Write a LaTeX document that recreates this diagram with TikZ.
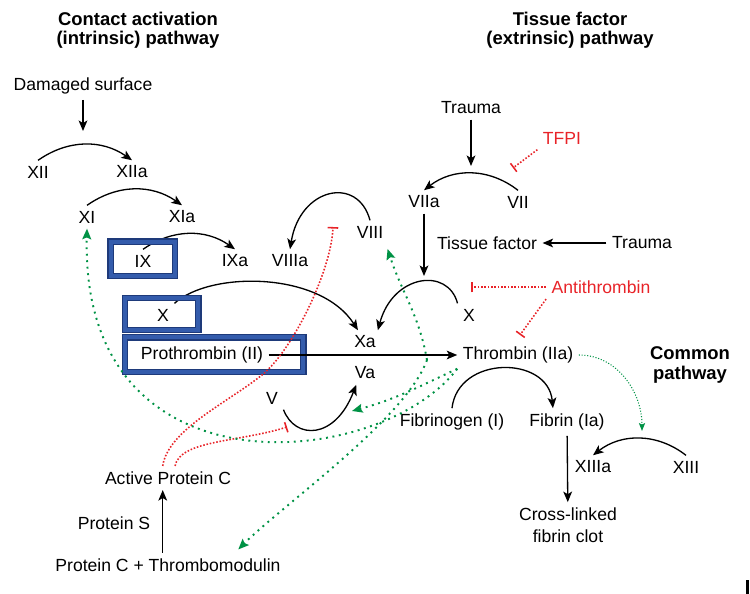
\documentclass[tikz,border=0pt]{standalone}
\usepackage{fontspec}
\setmainfont{Liberation Sans}
\usetikzlibrary{arrows.meta}

\definecolor{inhred}{RGB}{232,35,40}
\definecolor{fbgreen}{RGB}{0,146,69}
\definecolor{boxblue}{RGB}{52,92,172}
\definecolor{boxdark}{RGB}{30,58,122}

\tikzset{
  lbl/.style={inner sep=3pt, font=\fontsize{10}{12.3}\selectfont},
  inhlbl/.style={lbl, text=inhred},
  head/.style={inner sep=0pt, align=center, font=\bfseries\fontsize{10.5}{11.1}\selectfont},
  frame/.style={draw=boxdark, line width=0.6pt, double=boxblue, double distance=2.3pt, inner sep=0pt},
  act/.style={line width=0.75pt, -{Stealth[length=6pt,width=5pt,inset=1.5pt]}},
  inh/.style={inhred, line width=0.9pt, densely dotted, -{Bar[width=6pt,line width=0.9pt]}},
  fb/.style={fbgreen, line width=1.1pt, dash pattern=on 1.1pt off 2.6pt, -{Stealth[length=6pt,width=5pt,inset=1pt]}},
  fbthin/.style={fbgreen, line width=0.6pt, densely dotted, -{Stealth[length=4.5pt,width=3.5pt,inset=0.8pt]}}
}

\begin{document}
\begin{tikzpicture}[x=0.02cm, y=-0.02cm]
  \useasboundingbox (0,0) rectangle (750,594);

  % Headings
  \node[head] (hint) at (138,30) {Contact activation\\(intrinsic) pathway};
  \node[head] (hext) at (570,30) {Tissue factor\\(extrinsic) pathway};
  \node[head] (hcom) at (690,365) {Common\\pathway};

  % Intrinsic side
  \node[lbl] (ds) at (83,86) {Damaged surface};
  \node[lbl] (xii) at (38,172) {XII};
  \node[lbl] (xiia) at (132,172) {XIIa};
  \node[lbl] (xi) at (87,217) {XI};
  \node[lbl] (xia) at (182,217) {XIa};
  \node[lbl] (ix) at (143,261) {IX};
  \node[lbl] (ixa) at (235,261) {IXa};
  \node[lbl] (viiia) at (290,261) {VIIIa};
  \node[lbl] (viii) at (370,232) {VIII};
  \node[lbl] (xn) at (163,315) {X};
  \node[lbl] (proth) at (202,355) {Prothrombin (II)};
  \node[lbl] (xa) at (365,342) {Xa};
  \node[lbl] (va) at (365,373) {Va};
  \node[lbl] (v) at (272,398) {V};
  \node[lbl] (apc) at (168,478) {Active Protein C};
  \node[lbl] (ps) at (114,523) {Protein S};
  \node[lbl] (pctm) at (168,565) {Protein C + Thrombomodulin};

  % Extrinsic side
  \node[lbl] (trauma) at (471,108) {Trauma};
  \node[inhlbl] (tfpi) at (562,138) {TFPI};
  \node[lbl] (viia) at (424,202) {VIIa};
  \node[lbl] (vii) at (518,202) {VII};
  \node[lbl] (tf) at (487,243) {Tissue factor};
  \node[lbl] (trauma2) at (642,243) {Trauma};
  \node[inhlbl] (anti) at (601,287) {Antithrombin};
  \node[lbl] (xr) at (469,315) {X};

  % Common pathway
  \node[lbl] (thr) at (518,355) {Thrombin (IIa)};
  \node[lbl] (fgen) at (452,422) {Fibrinogen (I)};
  \node[lbl] (fib) at (567,422) {Fibrin (Ia)};
  \node[lbl] (xiiia) at (593,467) {XIIIa};
  \node[lbl] (xiii) at (686,467) {XIII};
  \node[lbl, align=center] (clot) at (568,525) {Cross-linked\\fibrin clot};

  % Free ends
  \coordinate (dsend) at (83,131);
  \coordinate (viitop) at (471,166);
  \coordinate (xtop) at (424,276);
  \coordinate (tfpiend) at (513,168);
  \coordinate (antiend) at (471,287);
  \coordinate (thrend) at (520,335);
  \coordinate (viiiend) at (333,227);
  \coordinate (vend) at (287,427);
  \coordinate (vfb) at (352,411);
  \coordinate (thrj) at (427,360);
  \coordinate (xiiitop) at (642,431);

  % Activations
  \draw[act] (ds) -- (dsend);
  \draw[act] (xii.north) to[bend left=35] (xiia.north);
  \draw[act] (xi.north) to[bend left=35] (xia.north);
  \draw[act] (ix.north) to[bend left=35] (ixa.north);
  \draw[act] (viii.north) .. controls +(-12,-45) and +(10,-62) .. (viiia.north);
  \draw[act] (xn.north east) .. controls (210,271) and (320,271) .. ([xshift=-4pt]xa.north);
  \draw[act] (trauma) -- (viitop);
  \draw[act] (vii.north) to[bend right=38] (viia.north);
  \draw[act] (viia) -- (xtop);
  \draw[act] (trauma2) -- (tf);
  \draw[act] (xr.north west) .. controls (448,267) and (393,274) .. ([xshift=-2pt]xa.north east);
  \draw[act] (v.south east) .. controls (295,440) and (335,440) .. ([xshift=-5pt]va.south);
  \draw[act] (fgen.north) .. controls +(6,-53) and +(-5,-53) .. ([xshift=-8pt]fib.north);
  \draw[act] (fib) -- (clot);
  \draw[act] (xiii.north) to[bend right=38] (xiiia.north);
  \draw[act] ([xshift=-3pt]pctm.north) -- ([xshift=-3pt]apc.south);

  % Frames
  \node[frame, minimum width=1.29cm, minimum height=0.69cm] (ixbox) at (142.8,258.8) {};
  \node[frame, minimum width=1.47cm, minimum height=0.64cm] (xbox) at (161.7,314.2) {};
  \node[frame, minimum width=3.57cm, minimum height=0.69cm] (pbox) at (214.2,354.7) {};
  \draw[act] (proth) -- (thr);

  % Inhibitions
  \draw[inh] (tfpi.south west) -- (tfpiend);
  \draw[inh] (anti) -- (antiend);
  \draw[inh] (anti.south west) -- (thrend);
  \draw[inh] ([xshift=-3pt]apc.north) .. controls (168,430) and (227,403) .. (262,375)
    .. controls (292,351) and (331,272) .. (viiiend);
  \draw[inh] ([xshift=4pt]apc.north) .. controls (180,440) and (240,442) .. (vend);

  % Thrombin feedback
  \draw[fb] (thr.south west) .. controls (380,470) and (80,500) .. (xi.south);
  \draw[fb] (thr.south west) to[out=205,in=15] (vfb);
  \draw[fb] (thrj) to[out=100,in=-72] ([xshift=10pt,yshift=-3pt]viii.south);
  \draw[fb] (thrj) to[out=-110,in=45,looseness=0.6] ([xshift=40pt,yshift=2pt]pctm.north);
  \draw[fbthin] (thr.east) to[out=0,in=90] (xiiitop);

  % Edge mark
  \fill (745.5,580) rectangle (748.5,594);
\end{tikzpicture}
\end{document}
